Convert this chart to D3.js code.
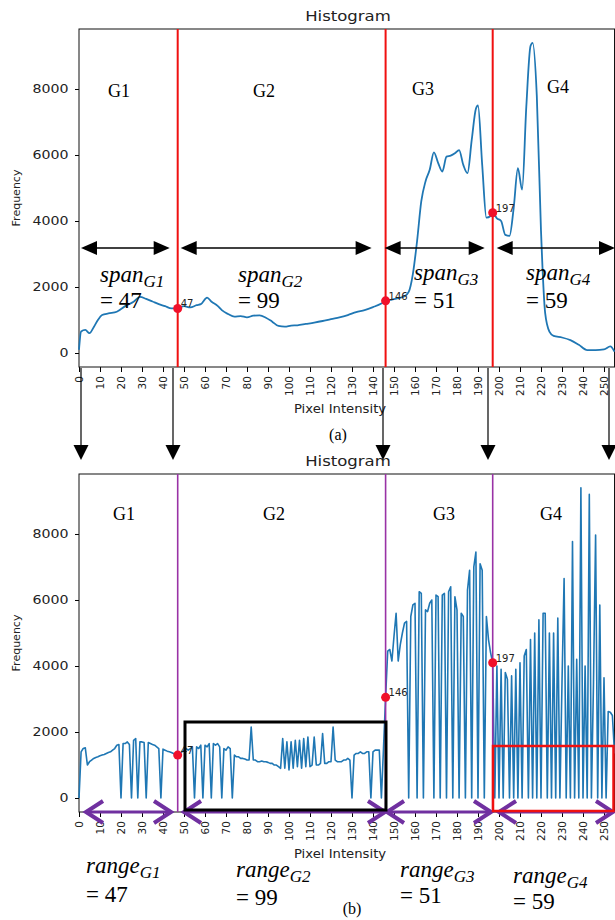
<!DOCTYPE html>
<html><head><meta charset="utf-8">
<style>body{margin:0;background:#fff}svg{display:block}</style>
</head><body>
<svg width="615" height="920" font-family="DejaVu Sans"></svg>
<script src="https://cdn.jsdelivr.net/npm/d3@7"></script>
<script>
// original histogram (a), read at sample intensities
var topX = [0,1,3,5,7,9,11,14,18,22,26,29,32,35,38,41,44,47,50,53,56,58,61,63,66,68,71,74,77,80,83,86,89,92,95,98,101,104,108,112,116,120,124,128,132,136,140,144,146,149,152,155,157,159,161,163,165,167,169,171,173,175,177,179,181,183,185,187,189,190,192,194,196,197,199,201,203,205,207,209,211,213,215,216,218,220,222,224,226,230,234,238,242,246,250,253,255];
var topY = [100,650,700,600,780,1000,1150,1200,1250,1420,1550,1700,1640,1560,1480,1420,1350,1350,1420,1380,1450,1480,1680,1560,1430,1300,1180,1100,1120,1080,1130,1140,1070,950,820,800,830,840,880,920,970,1030,1080,1150,1240,1300,1390,1500,1580,1620,1660,1720,1850,2400,3400,4600,5200,5550,6080,5760,5500,5950,5980,6050,6150,5700,5450,6450,7400,7500,5700,4100,4150,4250,4080,4000,3580,3550,4400,5600,4950,7460,9300,9400,7800,3700,1200,650,520,470,390,250,90,90,110,200,40];

// processed histogram (b), one value per intensity 0..255
var bottomY = [
  0,1400,1500,1520,1000,1100,1150,1200,1230,1250,1280,1300,1320,1350,1380,1400,1450,1500,1600,1620,
  0,1650,1650,1700,1620,0,1750,1800,0,1700,1700,1680,0,1680,1650,1620,1600,1550,1500,0,
  1480,1450,1420,1400,1380,1350,1320,
  1300,1350,1400,1450,1500,1450,1500,1550,0,1550,1500,1600,0,1600,1550,1650,0,1650,1600,1650,1550,0,
  1500,1450,1550,1500,0,1300,1250,1250,1200,1200,1180,1150,1150,2150,1150,1150,1100,1100,1120,1100,
  1100,1080,1050,1050,1000,1000,950,900,1800,900,1700,850,1700,900,1750,950,1750,900,1800,950,
  1850,950,1000,1850,1000,1000,1050,1950,1050,1050,1100,1100,2150,1150,1100,1100,1100,1150,1150,1200,
  1150,0,1300,1350,1350,1400,1350,1350,1400,1400,0,1400,1450,1450,1450,0,1500,
  3050,4450,4500,4150,4900,5600,4150,4650,5000,5300,5350,0,5500,5850,5900,0,6250,6200,0,5700,
  5650,5900,6000,0,6150,6100,0,6150,6200,0,6250,6400,0,6100,5700,0,5600,5500,0,6300,
  6900,0,7000,7450,0,7100,6900,0,5500,4800,4400,4100,
  0,4000,0,3900,0,3800,3600,0,3700,0,3900,0,4100,0,4300,4500,0,4800,0,5000,0,5400,0,5600,5600,0,
  5000,0,5000,0,5450,0,3500,6650,0,4000,0,7770,0,4200,0,9400,0,4000,0,9200,0,3500,7970,0,5850,0,
  3640,0,2620,2600,2500,1350];

var yTicks = [0,2000,4000,6000,8000];
var xTicks = d3.range(0, 251, 10);
var groups = ["G1","G2","G3","G4"];
var cuts = [47,146,197];
var spans = [47,99,51,59];
var dotTop = [1350,1580,4250];
var dotBottom = [1300,3050,4100];

var svg = d3.select("svg");
var x = d3.scaleLinear().domain([0,255]).range([79,614.5]);
var blue = "#1f77b4", purple = "#7030a0", lineP = "#9932a6";

function panel(top, bottom, isTop) {
    var y = d3.scaleLinear().domain([-424,9818]).range([bottom, top]);
    var g = svg.append("g");

    // axes
    var ay = g.append("g").attr("transform","translate(79,0)")
        .call(d3.axisLeft(y).tickValues(yTicks).tickFormat(d3.format("d")).tickSize(4).tickSizeOuter(0));
    ay.select(".domain").remove();
    ay.selectAll("text").attr("font-size",12).attr("font-family","DejaVu Sans")
        .attr("fill","#222").attr("transform","scale(1.18,1)").attr("x",-9);
    var ax = g.append("g").attr("transform","translate(0," + bottom + ")")
        .call(d3.axisBottom(x).tickValues(xTicks).tickSize(5).tickSizeOuter(0));
    ax.select(".domain").remove();
    ax.selectAll("text").attr("font-size",10.5).attr("font-family","DejaVu Sans").attr("fill","#222")
        .attr("transform","rotate(-90)").attr("x",-9).attr("y",0).attr("dy","0.35em")
        .style("text-anchor","end");

    g.append("rect").attr("x",79).attr("y",top).attr("width",x(255)-79).attr("height",bottom-top)
        .attr("fill","none").attr("stroke","#111").attr("stroke-width",1);

    g.append("text").attr("transform","translate(348," + (top-8) + ") scale(1.18,1)")
        .attr("text-anchor","middle").attr("font-size",14).attr("fill","#222").text("Histogram");
    g.append("text").attr("transform","translate(20," + ((top+bottom)/2) + ") rotate(-90)")
        .attr("text-anchor","middle").attr("font-size",11).attr("fill","#222").text("Frequency");
    g.append("text").attr("transform","translate(340," + (bottom+46) + ") scale(1.15,1)")
        .attr("text-anchor","middle").attr("font-size",11.5).attr("fill","#222").text("Pixel Intensity");

    // histogram line
    var pts = isTop ? topX.map(function(v,i){ return [v, topY[i]]; })
                    : bottomY.map(function(v,i){ return [i, v]; });
    var line = d3.line().x(function(d){ return x(d[0]); }).y(function(d){ return y(d[1]); });
    if (isTop) line.curve(d3.curveMonotoneX);
    g.append("path").datum(pts).attr("d", line).attr("fill","none")
        .attr("stroke", blue).attr("stroke-width", isTop ? 1.8 : 1.6).attr("stroke-linejoin","round");

    // separators
    g.selectAll(".cut").data(cuts).enter().append("line")
        .attr("x1", function(d){ return x(d); }).attr("x2", function(d){ return x(d); })
        .attr("y1", top).attr("y2", bottom)
        .attr("stroke", isTop ? "#f01010" : lineP).attr("stroke-width", isTop ? 2 : 1.6);

    var dv = isTop ? dotTop : dotBottom;
    cuts.forEach(function(c,i){
        g.append("circle").attr("cx", x(c)).attr("cy", y(dv[i])).attr("r",4.5).attr("fill","#f0102a");
        g.append("text").attr("x", x(c)+3).attr("y", y(dv[i])-1).attr("font-size",10)
            .attr("fill","#222").text(c);
    });

    // group names
    var gx = isTop ? [108,253,412,547] : [113,263,433,540];
    var gy = isTop ? [97,97,95,93] : [520,520,520,520];
    groups.forEach(function(n,i){
        g.append("text").attr("x",gx[i]).attr("y",gy[i]).attr("font-family","Liberation Serif")
            .attr("font-size",18).text(n);
    });
}

panel(29, 367, true);
panel(474, 812, false);

function tri(cx, cy, dir, len, half, color) {
    var p;
    if (dir === "l") p = [[cx,cy],[cx+len,cy-half],[cx+len,cy+half]];
    if (dir === "r") p = [[cx,cy],[cx-len,cy-half],[cx-len,cy+half]];
    if (dir === "d") p = [[cx,cy],[cx-half,cy-len],[cx+half,cy-len]];
    svg.append("polygon").attr("points", p.map(function(q){ return q.join(","); }).join(" "))
        .attr("fill", color);
}

// black span arrows (a)
var spanSeg = [[x(0)+2, x(47)-8], [x(47)+3, x(146)-14], [x(146)-1, x(197)-8], [x(197)+4, 615]];
spanSeg.forEach(function(s){
    svg.append("line").attr("x1",s[0]+10).attr("x2",s[1]-10).attr("y1",248).attr("y2",248)
        .attr("stroke","#000").attr("stroke-width",1.6);
    tri(s[0],248,"l",16,7,"#000");
    tri(s[1],248,"r",16,7,"#000");
});

// vertical connector arrows
[81,173,383,488,609].forEach(function(vx){
    svg.append("line").attr("x1",vx).attr("x2",vx).attr("y1",368).attr("y2",450)
        .attr("stroke","#000").attr("stroke-width",1.2);
    tri(vx,460,"d",15,7.5,"#000");
});

// purple range arrows (b)
var rangeSeg = [[86,171],[184,385],[387,491],[499,613]];
rangeSeg.forEach(function(s){
    svg.append("line").attr("x1",s[0]+1).attr("x2",s[1]-1).attr("y1",812).attr("y2",812)
        .attr("stroke",purple).attr("stroke-width",3);
    svg.append("path").attr("d","M" + (s[0]+17) + ",801 L" + s[0] + ",812 L" + (s[0]+17) + ",823")
        .attr("fill","none").attr("stroke",purple).attr("stroke-width",4);
    svg.append("path").attr("d","M" + (s[1]-17) + ",801 L" + s[1] + ",812 L" + (s[1]-17) + ",823")
        .attr("fill","none").attr("stroke",purple).attr("stroke-width",4);
});

// highlight boxes
svg.append("rect").attr("x",185).attr("y",722).attr("width",201).attr("height",88)
    .attr("fill","none").attr("stroke","#000").attr("stroke-width",3);
svg.append("rect").attr("x",493).attr("y",746).attr("width",120.5).attr("height",65)
    .attr("fill","none").attr("stroke","#f01010").attr("stroke-width",2.5);

// formula labels
function formula(word, idx, lx, y1, y2) {
    var t = svg.append("text").attr("x",lx).attr("y",y1).attr("font-family","Liberation Serif")
        .attr("font-size",23);
    t.append("tspan").attr("font-style","italic").text(word);
    t.append("tspan").attr("font-style","italic").attr("font-size",17).attr("dy",5).text(groups[idx]);
    svg.append("text").attr("x",lx).attr("y",y2).attr("font-family","Liberation Serif")
        .attr("font-size",23).text("= " + spans[idx]);
}
var spanPos = [[100,282,308],[238,282,308],[414,280,308],[526,280,308]];
spanPos.forEach(function(p,i){ formula("span", i, p[0], p[1], p[2]); });
var rangePos = [[86,873,902],[236,877,905],[400,877,903],[513,883,909]];
rangePos.forEach(function(p,i){ formula("range", i, p[0], p[1], p[2]); });

svg.append("text").attr("x",338).attr("y",440).attr("text-anchor","middle")
    .attr("font-family","Liberation Serif").attr("font-size",16).text("(a)");
svg.append("text").attr("x",352).attr("y",914).attr("text-anchor","middle")
    .attr("font-family","Liberation Serif").attr("font-size",16).text("(b)");
</script>
</body></html>
